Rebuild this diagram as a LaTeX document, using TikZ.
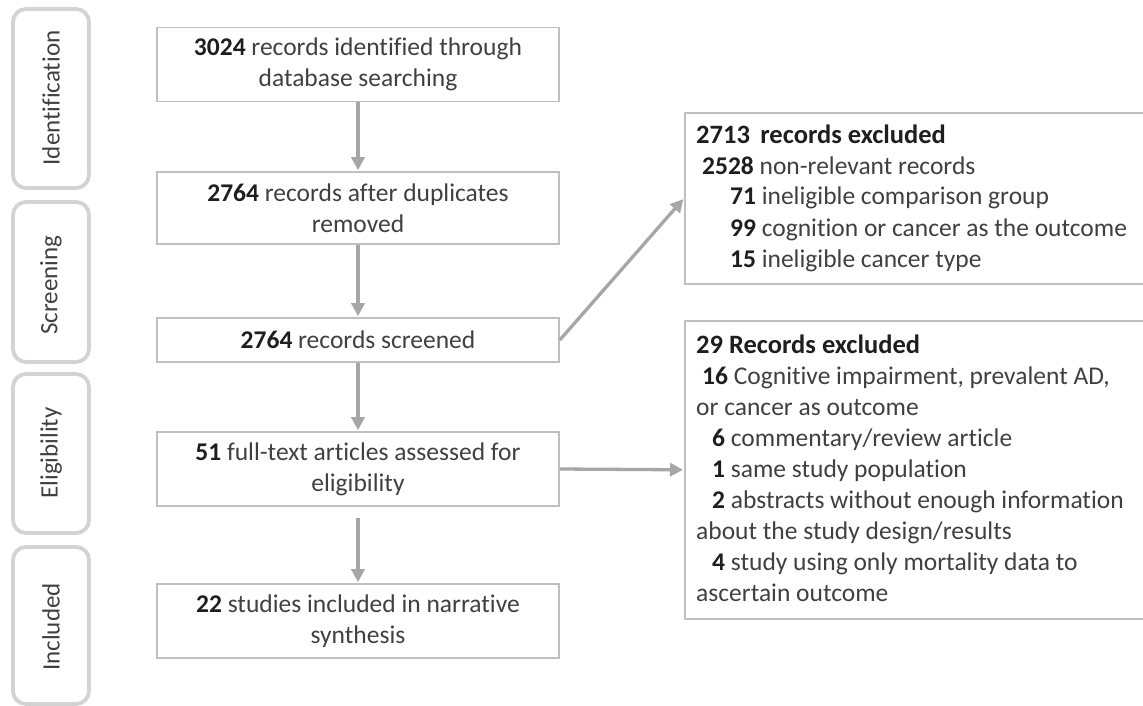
\documentclass[tikz,border=0pt]{standalone}
\usepackage{fontspec}
\setmainfont{Carlito}[Ligatures=NoCommon]
\usetikzlibrary{arrows.meta}
\definecolor{txt}{HTML}{404040}
\definecolor{num}{HTML}{1E1E1E}
\definecolor{boxline}{HTML}{BFBFBF}
\definecolor{sideline}{HTML}{D3D3D3}
\definecolor{arrcol}{HTML}{A6A6A6}
\newcommand{\nb}[1]{{\bfseries\color{num}#1}}
\newcommand{\rline}[2][0pt]{\hbox{\hskip#1 #2}}
\tikzset{
  x=1pt, y=-1pt,
  every node/.style={font=\fontsize{25.5}{31}\selectfont, text=txt},
  mainbox/.style={draw=boxline, line width=1.6pt, minimum width=402, align=center, inner sep=0pt},
  sidebox/.style={draw=sideline, line width=3.8pt, rounded corners=13pt},
  rbox/.style={draw=boxline, line width=1.6pt},
  sidetext/.style={rotate=90, font=\fontsize{25}{30}\selectfont},
  rtext/.style={anchor=base west, inner sep=0pt},
  arr/.style={draw=arrcol, line width=3.3pt, -{Triangle[length=13pt,width=13pt]}, shorten >=1pt},
}
\begin{document}
\begin{tikzpicture}
\useasboundingbox (0,0) rectangle (1143,706);
% side stage boxes
\draw[sidebox] (13,9) rectangle (89,188);
\draw[sidebox] (13,202) rectangle (89,362);
\draw[sidebox] (13,374) rectangle (89,533);
\draw[sidebox] (13,547) rectangle (89,704);
\node[sidetext] (sid) at (51,98) {Identification};
\node[sidetext] (ssc) at (51,285) {Screening};
\node[sidetext] (sel) at (51,453) {Eligibility};
\node[sidetext] (sin) at (51,627) {Included};
% main boxes
\node[mainbox, minimum height=74] (b1) at (358,64.5) {\nb{3024} records identified through\\database searching};
\node[mainbox, minimum height=72] (b2) at (358,208) {\nb{2764} records after duplicates\\removed};
\node[mainbox, minimum height=44] (b3) at (358,340) {\nb{2764} records screened};
\node[mainbox, minimum height=74] (b4) at (358,469) {\nb{51} full-text articles assessed for\\eligibility};
\node[mainbox, minimum height=74] (b5) at (358,621) {\nb{22} studies included in narrative\\synthesis};
% right boxes
\node[rbox, minimum width=470, minimum height=171, anchor=north west] (r1) at (684,112) {};
\node[rbox, minimum width=470, minimum height=298, anchor=north west] (r2) at (684,320) {};
\node[rtext] (r1t) at (696,143) {\baselineskip=31pt\vtop{
  \rline{\nb{\fontsize{26.5}{31}\selectfont 2713\ \,records excluded}}
  \rline[6pt]{\nb{2528} non-relevant records}
  \rline[34pt]{\nb{71} ineligible comparison group}
  \rline[34pt]{\nb{99} cognition or cancer as the outcome}
  \rline[34pt]{\nb{15} ineligible cancer type}}};
\node[rtext] (r2t) at (696,353) {\baselineskip=31pt\vtop{
  \rline{\nb{\fontsize{26.5}{31}\selectfont 29 Records excluded}}
  \rline[6pt]{\nb{16} Cognitive impairment, prevalent AD,}
  \rline{or cancer as outcome}
  \rline[16pt]{\nb{6} commentary/review article}
  \rline[16pt]{\nb{1} same study population}
  \rline[16pt]{\nb{2} abstracts without enough information}
  \rline{about the study design/results}
  \rline[16pt]{\nb{4} study using only mortality data to}
  \rline{ascertain outcome}}};
% connectors
\coordinate (c45) at (358,518);
\draw[arr] (b1.south) -- (b2.north);
\draw[arr] (b2.south) -- (b3.north);
\draw[arr] (b3.south) -- (b4.north);
\draw[arr] (c45) -- (b5.north);
\draw[arr] (b3.east) -- (r1.west);
\draw[arr] (b4.east) -- (r2.west);
\end{tikzpicture}
\end{document}
